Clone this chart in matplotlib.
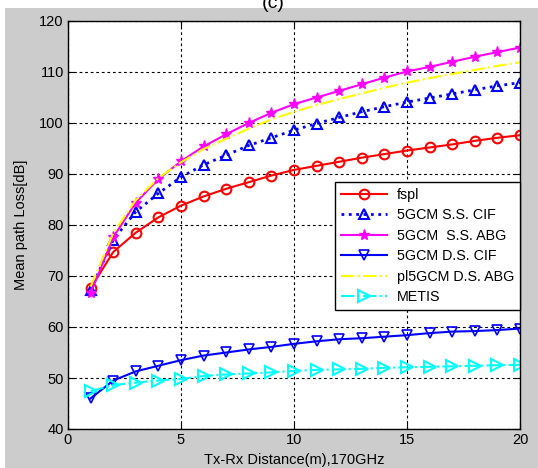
import matplotlib
matplotlib.use("Agg")
import matplotlib.pyplot as plt
from matplotlib.patches import Rectangle

plt.rcParams['font.family'] = ['Liberation Sans', 'DejaVu Sans']

# distance in metres
distance = list(range(1, 21))

fspl = [67.6, 74.7, 78.5, 81.5, 83.8, 85.6, 87.1, 88.4, 89.7, 90.8,
        91.6, 92.4, 93.2, 93.9, 94.6, 95.2, 95.8, 96.5, 97.1, 97.6]
ss_cif = [67.3, 77.1, 82.6, 86.2, 89.4, 91.8, 93.7, 95.6, 97.1, 98.6,
          99.9, 101.1, 102.2, 103.2, 104.1, 104.9, 105.7, 106.5, 107.3, 107.9]
ss_abg = [66.6, 77.6, 84.4, 89.0, 92.5, 95.4, 97.8, 100.0, 102.0, 103.7,
          105.0, 106.3, 107.6, 108.9, 110.1, 111.0, 112.0, 113.0, 113.9, 114.8]
ds_cif = [46.0, 49.5, 51.3, 52.4, 53.5, 54.4, 55.0, 55.6, 56.1, 56.7,
          57.2, 57.6, 57.8, 58.1, 58.4, 58.8, 59.1, 59.2, 59.4, 59.7]
ds_abg = [67.9, 78.4, 84.9, 89.2, 92.3, 94.9, 96.9, 98.9, 100.7, 102.2,
          103.5, 104.7, 105.8, 106.9, 107.9, 108.8, 109.6, 110.4, 111.2, 111.9]
metis = [47.4, 48.6, 49.1, 49.5, 49.8, 50.4, 50.7, 50.9, 51.1, 51.4,
         51.6, 51.7, 51.8, 52.0, 52.1, 52.2, 52.3, 52.4, 52.5, 52.6]

labels = ['fspl', '5GCM S.S. CIF', '5GCM  S.S. ABG', '5GCM D.S. CIF',
          'pl5GCM D.S. ABG', 'METIS']

fig = plt.figure(figsize=(5.38, 4.68), dpi=100, facecolor='#cccccc')
# white margins along the top and left
fig.patches.append(Rectangle((0, 1 - 8 / 468), 1, 8 / 468, transform=fig.transFigure,
                             facecolor='white', edgecolor='none', zorder=0))
fig.patches.append(Rectangle((0, 0), 5 / 538, 1, transform=fig.transFigure,
                             facecolor='white', edgecolor='none', zorder=0))
# panel letter, trimmed by the top edge of the page
fig.text(273 / 538, 1 - 8 / 468, '(c)', ha='center', va='baseline', fontsize=14)

ax = fig.add_axes([68 / 538, 1 - 429 / 468, 452 / 538, 408 / 468])

ax.plot(distance, fspl, color='red', lw=1.5, marker='o', ms=7,
        mfc='none', mew=1.5, label=labels[0])
ax.plot(distance, ss_cif, color='blue', lw=2, ls=':', marker='^', ms=7,
        mfc='none', mew=1.5, label=labels[1])
ax.plot(distance, ss_abg, color='magenta', lw=1.5, marker='*', ms=8,
        label=labels[2])
ax.plot(distance, ds_cif, color='blue', lw=1.5, marker='v', ms=7,
        mfc='none', mew=1.2, label=labels[3])
ax.plot(distance, ds_abg, color='yellow', lw=1.5, ls='-.', label=labels[4])
ax.plot(distance, metis, color='cyan', lw=1.5, ls='-.', marker='>', ms=8,
        mfc='none', mew=1.5, label=labels[5])

ax.set_xlim(0, 20)
ax.set_ylim(40, 120)
ax.set_xticks([0, 5, 10, 15, 20])
ax.set_yticks(range(40, 121, 10))
ax.grid(True, color='black', ls=(0, (2.5, 2.5)), lw=0.8)
ax.tick_params(direction='in', top=True, right=True, labelsize=10.5,
               length=4, pad=3)
for s in ax.spines.values():
    s.set_linewidth(1.0)

ax.set_xlabel('Tx-Rx Distance(m),170GHz', fontsize=10.5, labelpad=4)
ax.set_ylabel('Mean path Loss[dB]', fontsize=10.5, labelpad=8)

leg = ax.legend(loc='lower right', bbox_to_anchor=(1.0, 0.292), fontsize=10.3,
                frameon=True, fancybox=False, framealpha=1, edgecolor='black',
                handlelength=3.2, handletextpad=0.7, borderpad=0.4,
                labelspacing=0.45, borderaxespad=0)
leg.get_frame().set_linewidth(1.0)

fig.savefig('out.png', dpi=100, facecolor=fig.get_facecolor())
